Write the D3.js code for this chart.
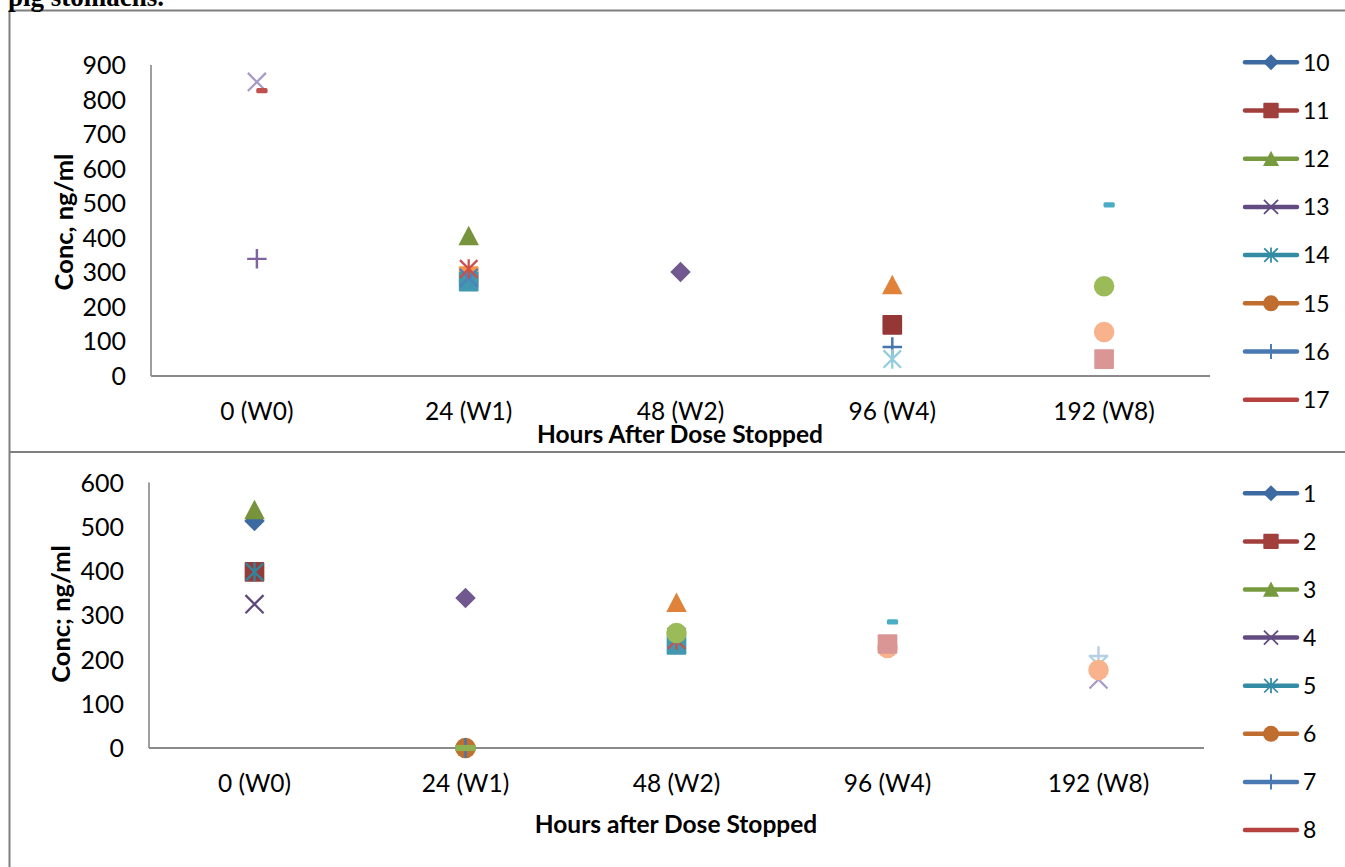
<!DOCTYPE html>
<html><head><meta charset="utf-8">
<script src="https://cdn.jsdelivr.net/npm/d3@7"></script>
<style>
body{margin:0;background:#fff}
svg{display:block}
text{font-family:Lato, "Open Sans", sans-serif;fill:#000}
</style>
</head><body>
<svg id="c" width="1345" height="867"></svg>
<script>
// ---------- DATA ----------
const categories = ["0 (W0)", "24 (W1)", "48 (W2)", "96 (W4)", "192 (W8)"];
const topYTicks = [0, 100, 200, 300, 400, 500, 600, 700, 800, 900];
const bottomYTicks = [0, 100, 200, 300, 400, 500, 600];
const topLegendNames = ["10", "11", "12", "13", "14", "15", "16", "17"];
const bottomLegendNames = ["1", "2", "3", "4", "5", "6", "7", "8"];

// top chart series (draw order)
const topSeriesNames = ["18", "17", "19", "20", "21", "22", "23", "12", "24", "25", "11", "16", "26", "27", "28", "29", "30"];
const topSeriesValues = [
  [851, null, null, null, null],
  [826, null, null, null, null],
  [339, null, null, null, null],
  [null, 289, null, null, null],
  [null, 273, null, null, null],
  [null, 284, null, null, null],
  [null, 310, null, null, null],
  [null, 405, null, null, null],
  [null, null, 301, null, null],
  [null, null, null, 263, null],
  [null, null, null, 148, null],
  [null, null, null, 84, null],
  [null, null, null, 49, null],
  [null, null, null, null, 495],
  [null, null, null, null, 260],
  [null, null, null, null, 127],
  [null, null, null, null, 49]
];
// bottom chart series (draw order)
const bottomSeriesNames = ["1", "3", "2", "5", "4", "9", "6", "7", "8", "10", "11", "12", "13", "14", "15", "16", "17", "18", "19", "20", "21", "22"];
const bottomSeriesValues = [
  [513, null, null, null, null],
  [538, null, null, null, null],
  [398, null, null, null, null],
  [398, null, null, null, null],
  [325, null, null, null, null],
  [null, 339, null, null, null],
  [null, 0, null, null, null],
  [null, 0, null, null, null],
  [null, 0, null, null, null],
  [null, null, 328, null, null],
  [null, null, 251, null, null],
  [null, null, 233, null, null],
  [null, null, 244, null, null],
  [null, null, 260, null, null],
  [null, null, null, 285, null],
  [null, null, null, 230, null],
  [null, null, null, 226, null],
  [null, null, null, 235, null],
  [null, null, null, null, 155],
  [null, null, null, null, 188],
  [null, null, null, null, 208],
  [null, null, null, null, 176]
];

// ---------- STYLES ----------
const legendColors = ["#3D6AA0", "#A13F3C", "#779A3E", "#624B80", "#338BA4", "#C06E2F", "#4A78B2", "#B5423F"];
const legendMarkers = ["diamond", "square", "triangle", "x", "star", "circle", "plus", "dash"];
const topColors = ["#A99BC6", "#C0504D", "#8064A2", "#F79646", "#4198AF", "#4F81BD", "#C9504D", "#77933C",
  "#71588F", "#E0823A", "#953735", "#4674AE", "#93CDDD", "#4BACC6", "#9BBB59", "#F9B38C", "#D99694"];
const topMarkers = ["x", "dash", "plus", "square", "square", "x", "star", "triangle",
  "diamond", "triangle", "square", "plus", "star", "dash", "circle", "circle", "square"];
const bottomColors = ["#3D6AA0", "#77933C", "#943C39", "#31859C", "#5F497A", "#71588F", "#C0702E", "#4674AE", "#8FB04E",
  "#E0823A", "#4F81BD", "#4198AF", "#C9504D", "#9BBB59", "#4BACC6", "#95B3D7", "#F9B38C", "#D99694",
  "#A99BC6", "#A5D5E2", "#B9CDE5", "#F9B38C"];
const bottomMarkers = ["diamond", "triangle", "square", "star", "x", "diamond", "circle", "plus", "longdash",
  "triangle", "x", "square", "star", "circle", "dash", "diamond", "circle", "square",
  "x", "x", "plus", "circle"];

const svg = d3.select("#c");

function drawMarker(g, type, x, y, color, s) {
  const h = s / 2;
  switch (type) {
    case "diamond":
      g.append("path").attr("d", `M${x},${y - h}L${x + h},${y}L${x},${y + h}L${x - h},${y}Z`).attr("fill", color);
      break;
    case "square":
      g.append("rect").attr("x", x - h * 0.96).attr("y", y - h * 0.96).attr("width", s * 0.96).attr("height", s * 0.96)
        .attr("rx", 1).attr("fill", color);
      break;
    case "triangle":
      g.append("path").attr("d", `M${x},${y - h}L${x + h},${y + h * 0.9}L${x - h},${y + h * 0.9}Z`).attr("fill", color);
      break;
    case "circle":
      g.append("circle").attr("cx", x).attr("cy", y).attr("r", h).attr("fill", color);
      break;
    case "x": {
      const k = h * 0.88;
      g.append("path").attr("d", `M${x - k},${y - k}L${x + k},${y + k}M${x + k},${y - k}L${x - k},${y + k}`)
        .attr("stroke", color).attr("stroke-width", s * 0.11).attr("fill", "none");
      break;
    }
    case "star": {
      const k = h * 0.85;
      g.append("path").attr("d", `M${x - k},${y - k}L${x + k},${y + k}M${x + k},${y - k}L${x - k},${y + k}M${x},${y - h * 0.95}L${x},${y + h * 0.95}`)
        .attr("stroke", color).attr("stroke-width", s * 0.11).attr("fill", "none");
      break;
    }
    case "plus":
      g.append("path").attr("d", `M${x - h * 0.95},${y}L${x + h * 0.95},${y}M${x},${y - h * 0.95}L${x},${y + h * 0.95}`)
        .attr("stroke", color).attr("stroke-width", s * 0.12).attr("fill", "none");
      break;
    case "dash":
      g.append("rect").attr("x", x - s * 0.03).attr("y", y - s * 0.13).attr("width", s * 0.55).attr("height", s * 0.26)
        .attr("rx", 1.5).attr("fill", color);
      break;
    case "longdash":
      g.append("rect").attr("x", x - h).attr("y", y - s * 0.15).attr("width", s).attr("height", s * 0.3)
        .attr("fill", color);
      break;
  }
}

function drawChart(cfg) {
  const g = svg.append("g");
  const x = d3.scaleBand().domain(categories).range([cfg.left, cfg.right]);
  const y = d3.scaleLinear().domain([0, cfg.yMax]).range([cfg.bottom, cfg.top]);

  g.append("line").attr("x1", cfg.left).attr("x2", cfg.left).attr("y1", y(cfg.yMax)).attr("y2", y(0))
    .attr("stroke", "#868686").attr("stroke-width", 1.6);
  g.append("line").attr("x1", cfg.left).attr("x2", cfg.right).attr("y1", y(0)).attr("y2", y(0))
    .attr("stroke", "#8a8a8a").attr("stroke-width", 2.2);

  g.selectAll(".yt").data(cfg.yTicks).enter().append("text")
    .attr("x", cfg.left - 25).attr("y", d => y(d)).attr("dy", "0.36em")
    .attr("text-anchor", "end").attr("font-size", 25).text(d => d);
  g.selectAll(".xt").data(categories).enter().append("text")
    .attr("x", d => x(d) + x.bandwidth() / 2).attr("y", cfg.xLabelY)
    .attr("text-anchor", "middle").attr("font-size", 24.5).text(d => d);

  g.append("text").attr("x", cfg.xTitleX).attr("y", cfg.xTitleY).attr("text-anchor", "middle")
    .attr("font-size", 24.5).attr("font-weight", "bold").text(cfg.xTitle);
  g.append("text").attr("transform", `translate(${cfg.yTitleX},${cfg.yTitleY}) rotate(-90)`)
    .attr("text-anchor", "middle").attr("font-size", 25.5).attr("font-weight", "bold").text(cfg.yTitle);

  const pg = g.append("g");
  cfg.values.forEach((vals, i) => {
    vals.forEach((v, j) => {
      if (v === null) return;
      const cx = x(categories[j]) + x.bandwidth() / 2;
      drawMarker(pg, cfg.markers[i], cx, y(v), cfg.colors[i], 20.5);
    });
  });

  const lg = g.append("g");
  cfg.legendNames.forEach((n, i) => {
    const ly = cfg.legendTop + i * cfg.legendStep;
    lg.append("line").attr("x1", 1245).attr("x2", 1297).attr("y1", ly).attr("y2", ly)
      .attr("stroke", legendColors[i]).attr("stroke-width", 4.5).attr("stroke-linecap", "round");
    if (legendMarkers[i] !== "dash") drawMarker(lg, legendMarkers[i], 1271, ly, legendColors[i], 16);
    lg.append("text").attr("x", 1303).attr("y", ly).attr("dy", "0.36em").attr("font-size", 23).text(n);
  });
}

// frame lines and cut-off caption above
svg.append("line").attr("x1", 9.5).attr("x2", 1345).attr("y1", 10.5).attr("y2", 10.5).attr("stroke", "#7f7f7f").attr("stroke-width", 2);
svg.append("line").attr("x1", 9.5).attr("x2", 9.5).attr("y1", 10).attr("y2", 867).attr("stroke", "#7f7f7f").attr("stroke-width", 2);
svg.append("line").attr("x1", 9.5).attr("x2", 1345).attr("y1", 452).attr("y2", 452).attr("stroke", "#7f7f7f").attr("stroke-width", 2);
svg.append("text").attr("x", 8).attr("y", 6).attr("font-weight", "bold")
  .attr("font-size", 27).style("font-family", "'Liberation Serif', serif").text("pig stomachs.");

drawChart({
  left: 151, right: 1210, top: 65, bottom: 376, yMax: 900, yTicks: topYTicks,
  xLabelY: 420, xTitle: "Hours After Dose Stopped", xTitleX: 680, xTitleY: 443,
  yTitle: "Conc, ng/ml", yTitleX: 73, yTitleY: 222,
  values: topSeriesValues, colors: topColors, markers: topMarkers,
  legendNames: topLegendNames, legendTop: 62.3, legendStep: 48.2
});
drawChart({
  left: 149, right: 1204, top: 482.5, bottom: 748, yMax: 600, yTicks: bottomYTicks,
  xLabelY: 792, xTitle: "Hours after Dose Stopped", xTitleX: 676, xTitleY: 833,
  yTitle: "Conc; ng/ml", yTitleX: 70, yTitleY: 614,
  values: bottomSeriesValues, colors: bottomColors, markers: bottomMarkers,
  legendNames: bottomLegendNames, legendTop: 493.3, legendStep: 48.1
});
</script>
</body></html>
